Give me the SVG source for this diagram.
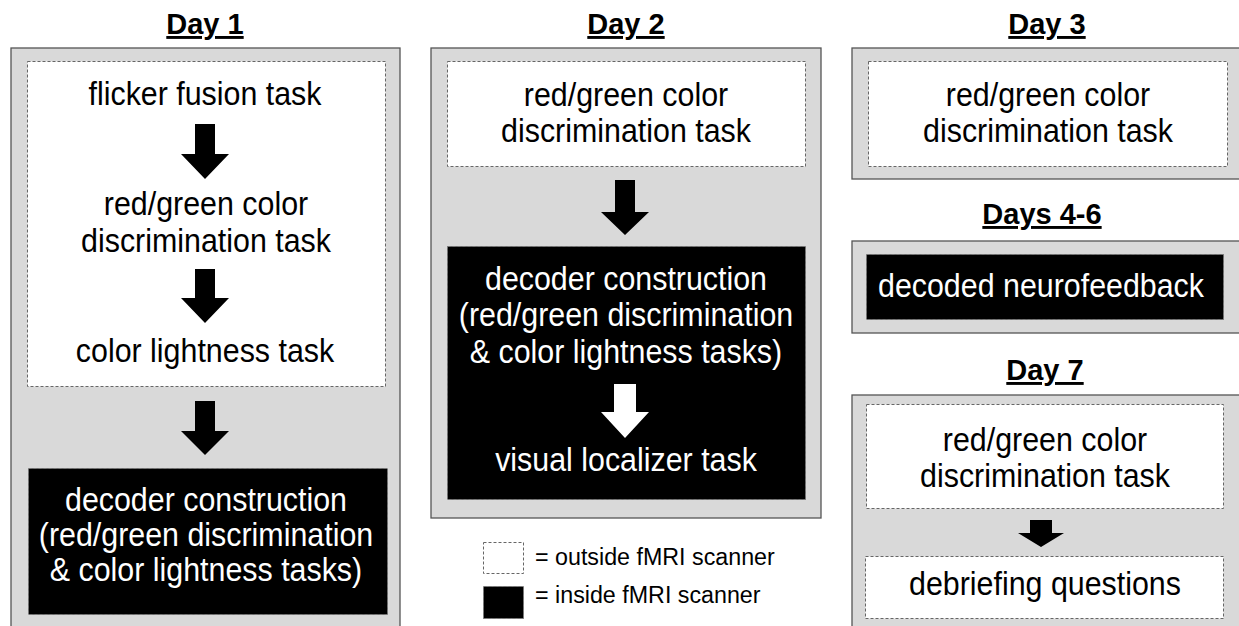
<svg xmlns="http://www.w3.org/2000/svg" width="1239" height="626" viewBox="0 0 1239 626">
<style>
.panel{fill:#d9d9d9;stroke:#555;stroke-width:1.3}
.out{fill:#fff;stroke:#666;stroke-width:1;stroke-dasharray:3 2}
.in{fill:#000;stroke:#777;stroke-width:1;stroke-dasharray:3 2}
.title{font-family:"Liberation Sans",Arial,sans-serif;font-weight:bold;font-size:29px;text-anchor:middle;fill:#000;text-decoration:underline}
.t{font-family:"Liberation Sans",Arial,sans-serif;font-size:32.5px;text-anchor:middle;fill:#000}
.w{fill:#fff}
.leg{font-family:"Liberation Sans",Arial,sans-serif;font-size:24.5px;fill:#000}
.arr{fill:#000}
.warr{fill:#fff}
</style>
<rect width="1239" height="626" fill="#fff"/>

<g id="day1">
<text class="title" x="205" y="34">Day 1</text>
<rect class="panel" x="11" y="48" width="389" height="600"/>
<g id="d1-outside">
<rect class="out" x="27.5" y="61.5" width="358" height="325"/>
<text class="t" transform="translate(205,105) scale(0.935,1)">flicker fusion task</text>
<text class="t" transform="translate(206,215) scale(0.935,1)">red/green color</text>
<text class="t" transform="translate(206,252) scale(0.935,1)">discrimination task</text>
<text class="t" transform="translate(205,362) scale(0.935,1)">color lightness task</text>
</g>
<g id="d1-inside">
<rect class="in" x="28.5" y="468.5" width="359" height="146"/>
<text class="t w" transform="translate(206,511) scale(0.935,1)">decoder construction</text>
<text class="t w" transform="translate(206,546) scale(0.935,1)">(red/green discrimination</text>
<text class="t w" transform="translate(206,581) scale(0.935,1)">&amp; color lightness tasks)</text>
</g>
</g>

<g id="day2">
<text class="title" x="626" y="34">Day 2</text>
<rect class="panel" x="431" y="48" width="390" height="470"/>
<g id="d2-outside">
<rect class="out" x="447.5" y="61.5" width="358" height="105"/>
<text class="t" transform="translate(626,106) scale(0.935,1)">red/green color</text>
<text class="t" transform="translate(626,142) scale(0.935,1)">discrimination task</text>
</g>
<g id="d2-inside">
<rect class="in" x="447.5" y="246.5" width="358" height="253"/>
<text class="t w" transform="translate(626,290) scale(0.935,1)">decoder construction</text>
<text class="t w" transform="translate(626,326) scale(0.935,1)">(red/green discrimination</text>
<text class="t w" transform="translate(626,363) scale(0.935,1)">&amp; color lightness tasks)</text>
<text class="t w" transform="translate(626,471) scale(0.935,1)">visual localizer task</text>
</g>
</g>

<g id="legend">
<rect class="out" x="483.5" y="542.5" width="40" height="31"/>
<text class="leg" transform="translate(535,565) scale(0.95,1)">= outside fMRI scanner</text>
<rect class="in" x="483.5" y="586.5" width="40" height="32"/>
<text class="leg" transform="translate(535,603) scale(0.95,1)">= inside fMRI scanner</text>
</g>

<g id="day3">
<text class="title" x="1047" y="34">Day 3</text>
<rect class="panel" x="852" y="48" width="400" height="131"/>
<g id="d3-outside">
<rect class="out" x="868.5" y="61.5" width="359" height="105"/>
<text class="t" transform="translate(1048,106) scale(0.935,1)">red/green color</text>
<text class="t" transform="translate(1048,142) scale(0.935,1)">discrimination task</text>
</g>
</g>

<g id="days4-6">
<text class="title" x="1042" y="224">Days 4-6</text>
<rect class="panel" x="852" y="241" width="400" height="92"/>
<g id="d46-inside">
<rect class="in" x="866.5" y="254.5" width="357" height="65"/>
<text class="t w" transform="translate(1041,297) scale(0.935,1)">decoded neurofeedback</text>
</g>
</g>

<g id="day7">
<text class="title" x="1045" y="380">Day 7</text>
<rect class="panel" x="852" y="395" width="400" height="260"/>
<g id="d7-outside1">
<rect class="out" x="866.5" y="404.5" width="357" height="104"/>
<text class="t" transform="translate(1045,451) scale(0.935,1)">red/green color</text>
<text class="t" transform="translate(1045,487) scale(0.935,1)">discrimination task</text>
</g>
<g id="d7-outside2">
<rect class="out" x="865.5" y="556.5" width="358" height="62"/>
<text class="t" transform="translate(1045,595) scale(0.935,1)">debriefing questions</text>
</g>
</g>

<g id="connectors">
<path class="arr" d="M195,124 H215 V154 H229 L205,179 L181,154 H195 Z"/>
<path class="arr" d="M195,269 H215 V298 H229 L205,323 L181,298 H195 Z"/>
<path class="arr" d="M195,401 H215 V431 H229 L205,455 L181,431 H195 Z"/>
<path class="arr" d="M615,180 H635 V212 H649 L625,235 L601,212 H615 Z"/>
<path class="warr" d="M614,384 H636 V412 H649 L625,438 L601,412 H614 Z"/>
<path class="arr" d="M1030,520 H1052 V533 H1064 L1041,547 L1018,533 H1030 Z"/>
</g>
</svg>
